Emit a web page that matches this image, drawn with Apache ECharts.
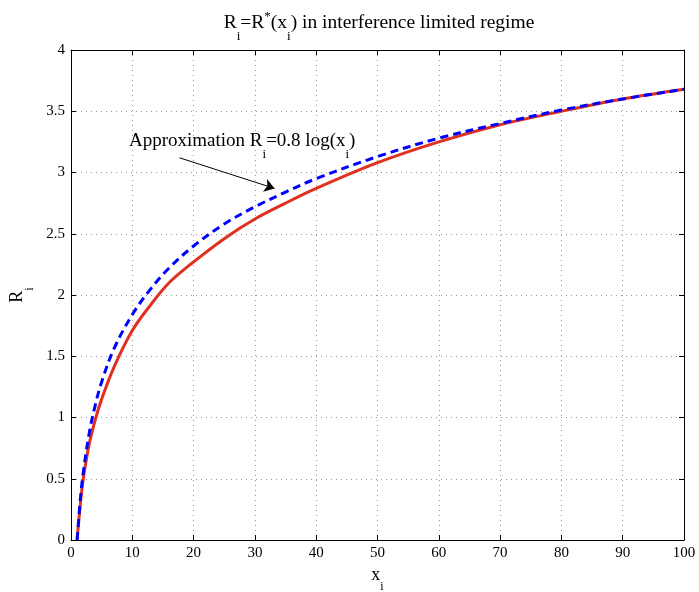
<!DOCTYPE html>
<html>
<head>
<meta charset="utf-8">
<script src="https://cdn.jsdelivr.net/npm/echarts@6/dist/echarts.min.js"></script>
<style>
  html, body { margin: 0; padding: 0; background: #fff; }
  #chart { width: 699px; height: 592px; }
</style>
</head>
<body>
<div id="chart"></div>
<script>
// values
const xValues = [1, 1.5, 2, 3, 4, 5, 7, 10, 13, 16, 20, 25, 30, 35, 40, 50, 60, 70, 80, 90, 100];
const exactRate = [0, 0.28, 0.50, 0.79, 0.99, 1.15, 1.41, 1.71, 1.92, 2.10, 2.27, 2.46, 2.62, 2.75, 2.87, 3.08, 3.25, 3.39, 3.50, 3.60, 3.68];
const approxRate = [0, 0.32, 0.55, 0.88, 1.11, 1.29, 1.56, 1.84, 2.05, 2.22, 2.40, 2.58, 2.72, 2.84, 2.95, 3.13, 3.28, 3.40, 3.51, 3.60, 3.68];
const arrowFrom = [17.7, 3.12];
const arrowTo = [33.2, 2.87];

const FONT = "Liberation Serif";

const pairs = (ys) => xValues.map((x, i) => [x, ys[i]]);

// rich text with subscripts / superscripts at a given base size
// (subscript sits at the bottom of a taller line box)
function makeRich(size) {
  const small = Math.round(size * 0.68);
  const base = { fontFamily: FONT, fontWeight: "normal", color: "#000" };
  return {
    n: Object.assign({ fontSize: size, lineHeight: size + 2, verticalAlign: "top" }, base),
    s: Object.assign({ fontSize: small, lineHeight: Math.round(size * 0.85) + small, verticalAlign: "bottom" }, base),
    p: Object.assign({ fontSize: small, lineHeight: small, padding: [-3, 0, 0, 0], verticalAlign: "top" }, base),
  };
}

const gridLine = { show: true, lineStyle: { color: "#999", type: [1, 4], width: 1 } };
const axisText = { fontFamily: FONT, fontSize: 15, color: "#000" };
const boxLine = { show: true, onZero: false, lineStyle: { color: "#000", width: 1 } };
const innerTick = { show: true, inside: true, length: 5, lineStyle: { color: "#000" } };

const chart = echarts.init(document.getElementById("chart"), null, { renderer: "canvas" });

chart.setOption({
  animation: false,
  backgroundColor: "#fff",
  grid: { left: 71, right: 15, top: 50, bottom: 52, outerBoundsMode: "none", containLabel: false },
  title: {
    text: "{n|R}{s|i}{n|=R}{p|*}{n|(x}{s|i}{n|) in interference limited regime}",
    left: 374,
    textAlign: "center",
    top: 8,
    textStyle: { fontWeight: "normal", rich: makeRich(19.5) },
  },
  xAxis: [
    {
      type: "value", min: 0, max: 100, interval: 10,
      name: "{n|x}{s|i}", nameLocation: "middle", nameGap: 22,
      nameTextStyle: { rich: makeRich(18) },
      axisLine: boxLine,
      axisTick: innerTick,
      axisLabel: Object.assign({ margin: 6 }, axisText),
      splitLine: gridLine,
    },
    {
      type: "value", position: "top", min: 0, max: 100, interval: 10,
      axisLine: boxLine,
      axisTick: innerTick,
      axisLabel: { show: false },
      splitLine: { show: false },
    },
  ],
  yAxis: [
    {
      type: "value", min: 0, max: 4, interval: 0.5,
      name: "{n|R}{s|i}", nameLocation: "middle", nameGap: 30, nameRotate: 90,
      nameTextStyle: { rich: makeRich(18) },
      axisLine: boxLine,
      axisTick: innerTick,
      axisLabel: Object.assign({ margin: 6 }, axisText),
      splitLine: gridLine,
    },
    {
      type: "value", position: "right", min: 0, max: 4, interval: 0.5,
      axisLine: boxLine,
      axisTick: innerTick,
      axisLabel: { show: false },
      splitLine: { show: false },
    },
  ],
  series: [
    {
      name: "R*(x)",
      type: "line",
      data: pairs(exactRate),
      smooth: 0.35,
      showSymbol: false,
      lineStyle: { color: "#e0301e", width: 3 },
      z: 2,
    },
    {
      name: "0.8 log(x)",
      type: "line",
      data: pairs(approxRate),
      smooth: 0.35,
      showSymbol: false,
      lineStyle: { color: "#0000ff", width: 3, type: [8, 5] },
      z: 3,
      markLine: {
        silent: true,
        symbol: ["none", "arrow"],
        symbolSize: 10,
        lineStyle: { color: "#000", width: 1, type: "solid" },
        label: { show: false },
        emphasis: { disabled: true },
        data: [[{ coord: arrowFrom }, { coord: arrowTo }]],
      },
    },
  ],
  graphic: [
    {
      type: "text",
      left: 129,
      top: 132,
      style: {
        text: "{n|Approximation R}{s|i}{n|=0.8 log(x}{s|i}{n|)}",
        rich: makeRich(19),
      },
    },
  ],
});
</script>
</body>
</html>
